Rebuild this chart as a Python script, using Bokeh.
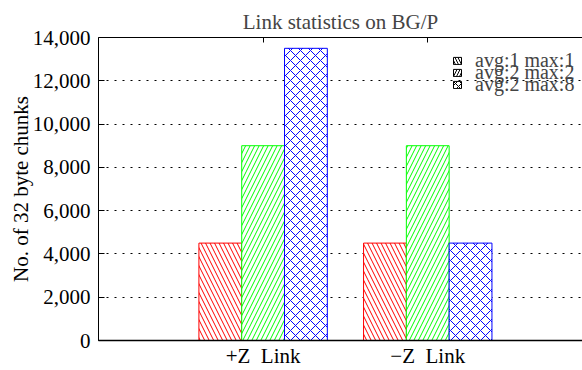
from bokeh.plotting import figure
from bokeh.models import Range1d, FixedTicker, LinearAxis, NumeralTickFormatter, Legend, LegendItem, ColumnDataSource
from bokeh.embed import file_html
from bokeh.resources import INLINE

# ---- data ----
groups = ["+Z \u00a0Link", "\u2212Z \u00a0Link"]
series = ["avg:1 max:1", "avg:2 max:2", "avg:2 max:8"]
avg1_max1 = [4500, 4500]
avg2_max2 = [9000, 9000]
avg2_max8 = [13500, 4500]
y_ticks = [0, 2000, 4000, 6000, 8000, 10000, 12000, 14000]
title_text = "Link statistics on BG/P"
y_label = "No. of 32 byte chunks"

FONT = "Liberation Serif"
values = [avg1_max1, avg2_max2, avg2_max8]
colors = ["#ff0000", "#00ff00", "#0000ff"]
hatches = ["left_diagonal_line", "right_diagonal_line", "diagonal_cross"]
scales = [9, 9, 10]
offsets = [-0.26, 0.0, 0.26]
bar_w = 0.26

p = figure(width=582, height=370, x_range=Range1d(-1.0, 1.94), y_range=Range1d(0, 14000),
           output_backend="svg", toolbar_location=None,
           min_border_left=98, min_border_right=0, min_border_top=37, min_border_bottom=28)
p.outline_line_color = None
p.background_fill_color = "white"
p.border_fill_color = "white"

# title
p.title.text = title_text
p.title.text_font = FONT
p.title.text_font_size = "21px"
p.title.text_font_style = "normal"
p.title.align = "center"
p.title.standoff = 7
p.title.offset = 5

# grid
p.xgrid.visible = False
p.ygrid.ticker = FixedTicker(ticks=y_ticks[1:-1])
p.ygrid.grid_line_color = "black"
p.ygrid.grid_line_dash = "2 6"
p.ygrid.grid_line_width = 1

# y axis
ya = p.yaxis[0]
ya.ticker = FixedTicker(ticks=y_ticks)
ya.formatter = NumeralTickFormatter(format="0,0")
ya.major_tick_in = 6
ya.major_tick_out = 0
ya.minor_tick_line_color = None
ya.axis_line_color = "black"
ya.major_tick_line_color = "black"
ya.major_label_text_font = FONT
ya.major_label_text_font_size = "21px"
ya.major_label_text_color = "black"
ya.major_label_standoff = 8
ya.axis_label = y_label
ya.axis_label_text_font = FONT
ya.axis_label_text_font_size = "21px"
ya.axis_label_text_font_style = "normal"
ya.axis_label_text_color = "black"
ya.axis_label_standoff = -3

# x axis
xa = p.xaxis[0]
xa.ticker = FixedTicker(ticks=list(range(len(groups))))
xa.major_label_overrides = {i: g for i, g in enumerate(groups)}
xa.major_tick_in = 0
xa.major_tick_out = 0
xa.minor_tick_line_color = None
xa.axis_line_color = "black"
xa.axis_line_width = 1.5
xa.major_label_text_font = FONT
xa.major_label_text_font_size = "21px"
xa.major_label_text_color = "black"
xa.major_label_standoff = 3

# top border with mirrored ticks (labels not drawn)
top = LinearAxis(ticker=FixedTicker(ticks=list(range(len(groups)))))
top.major_label_text_font_size = "1px"
top.major_label_text_color = None
top.major_label_standoff = 0
top.major_tick_in = 5
top.major_tick_out = 0
top.minor_tick_line_color = None
top.axis_line_color = "black"
p.add_layout(top, "above")

# bars
for vals, col, hp, sc, off in zip(values, colors, hatches, scales, offsets):
    src = ColumnDataSource(dict(x=[i + off for i in range(len(groups))], top=vals))
    p.vbar(x="x", top="top", width=bar_w, bottom=0, source=src,
           fill_color="white", line_color=col, line_width=1,
           hatch_pattern=hp, hatch_color=col, hatch_scale=sc, hatch_weight=1)

# legend (black pattern icons); proxy renderers are zero-height and off-frame
row_bottoms = [268, 256, 244]
for name, hp, vy in zip(series, hatches, row_bottoms):
    r = p.vbar(x=[-5], top=[0], bottom=[0], width=bar_w, fill_color="white", line_color="black",
               line_width=1, hatch_pattern=hp, hatch_color="black", hatch_scale=6, hatch_weight=1)
    leg = Legend(items=[LegendItem(label=name, renderers=[r])], location=(354, vy),
                 margin=0, padding=0, spacing=0,
                 glyph_width=10, glyph_height=9, label_standoff=13, label_height=24,
                 label_text_font=FONT, label_text_font_size="20px",
                 background_fill_alpha=0, border_line_color=None)
    p.add_layout(leg)

open("out.html", "w").write(file_html(p, INLINE))
